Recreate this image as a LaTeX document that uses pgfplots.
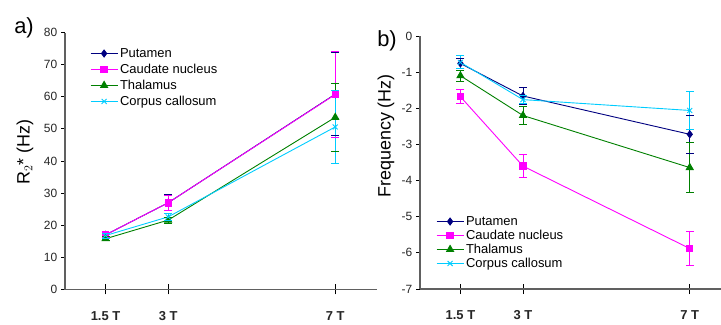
\documentclass[border=0pt]{standalone}
\usepackage{fontspec}
\setmainfont{Liberation Sans}
\usepackage{pgfplots}
\pgfplotsset{compat=1.18}
\usepackage{pgfplotstable}

\definecolor{cPut}{HTML}{000080}
\definecolor{cCau}{HTML}{FF00FF}
\definecolor{cTha}{HTML}{008000}
\definecolor{cCor}{HTML}{00CCFF}
\definecolor{axgray}{HTML}{606060}

% R2* data: field, mean
\pgfplotstableread{
x y
1.5 17.0
3   27.0
7   60.8
}\aPut
\pgfplotstableread{
x y
1.5 17.0
3   27.0
7   60.7
}\aCau
\pgfplotstableread{
x y
1.5 15.8
3   21.6
7   53.6
}\aTha
\pgfplotstableread{
x y
1.5 16.8
3   22.6
7   50.6
}\aCor
% Frequency data
\pgfplotstableread{
x y
1.5 -0.76
3   -1.66
7   -2.72
}\bPut
\pgfplotstableread{
x y
1.5 -1.68
3   -3.60
7   -5.88
}\bCau
\pgfplotstableread{
x y
1.5 -1.10
3   -2.20
7   -3.64
}\bTha
\pgfplotstableread{
x y
1.5 -0.73
3   -1.76
7   -2.06
}\bCor

\pgfplotsset{
  common/.style={
    scale only axis,
    /pgf/number format/assume math mode=true,
    axis x line*=bottom, axis y line*=left,
    axis line style={axgray, line width=1.3bp, -},
    xtick={1.5,3,7},
    xticklabels={\textbf{1.5 T},\textbf{3 T},\textbf{7 T}},
    tick align=outside,
    xtick style={black, line width=0.8bp, /pgfplots/major tick length=10bp, yshift=5bp},
    ytick style={black, line width=0.8bp, /pgfplots/major tick length=4bp},
    tick label style={font=\fontsize{12}{14}\selectfont, text=black!85},
    xticklabel style={font=\fontsize{13}{15}\selectfont, yshift=-14bp},
    legend style={draw=none, fill=none, font=\fontsize{13}{16}\selectfont, anchor=north west, legend cell align=left, inner sep=0pt, row sep=0.5pt},
    legend image code/.code={\draw[mark repeat=2,mark phase=2] plot coordinates {(0bp,0bp)(13.5bp,0bp)(27bp,0bp)};},
    ylabel style={font=\fontsize{18}{21}\selectfont, rotate=0},
    unbounded coords=jump,
  },
  eb/.style={draw=#1, forget plot, line width=0.9bp, solid, mark=-, mark size=4bp, mark options={draw=#1, solid, line width=0.9bp}},
  sPut/.style={color=cPut, line width=0.9bp, mark=diamond*, mark size=3.5bp, mark options={fill=cPut, solid}},
  sCau/.style={color=cCau, line width=0.9bp, mark=square*, mark size=3.2bp, mark options={fill=cCau, solid}},
  sTha/.style={color=cTha, line width=0.9bp, mark=triangle*, mark size=4bp, mark options={fill=cTha, solid}},
  sCor/.style={color=cCor, line width=0.9bp, mark=x, mark size=3.5bp, mark options={solid}},
}

\begin{document}
\begin{tikzpicture}
\useasboundingbox (0,0) rectangle (721bp,325bp);

\begin{axis}[common,
  at={(65bp,35.5bp)}, anchor=south west,
  width=312bp, height=257bp,
  xmin=0.53, xmax=8.0, ymin=0, ymax=80,
  ytick={0,10,...,80},
  ylabel={R$_2$* (Hz)},
  ylabel style={at={(axis description cs:-0.128,0.535)}, anchor=center},
  legend style={at={(axis description cs:0.08,0.947)}, row sep=1.2pt},
]
% error bars (low, high)
\addplot[eb=cPut] coordinates {(1.5,16.3) (1.5,17.7) (1.5,nan) (3,24.5) (3,29.5) (3,nan) (7,47.8) (7,73.8)};
\addplot[sPut] table[x=x,y=y] {\aPut};
\addlegendentry{Putamen}
\addplot[eb=cCau] coordinates {(1.5,16.2) (1.5,17.8) (1.5,nan) (3,24.7) (3,29.3) (3,nan) (7,47.2) (7,74.2)};
\addplot[sCau] table[x=x,y=y] {\aCau};
\addlegendentry{Caudate nucleus}
\addplot[eb=cTha] coordinates {(1.5,15.2) (1.5,16.4) (1.5,nan) (3,20.7) (3,22.5) (3,nan) (7,43.0) (7,64.2)};
\addplot[sTha] table[x=x,y=y] {\aTha};
\addlegendentry{Thalamus}
\addplot[eb=cCor] coordinates {(1.5,16.0) (1.5,17.6) (1.5,nan) (3,21.4) (3,23.8) (3,nan) (7,39.3) (7,61.9)};
\addplot[sCor] table[x=x,y=y] {\aCor};
\addlegendentry{Corpus callosum}
\end{axis}

\begin{axis}[common,
  at={(420bp,36bp)}, anchor=south west,
  width=301bp, height=253bp,
  xmin=0.53, xmax=7.75, ymin=-7, ymax=0,
  ytick={-7,-6,-5,-4,-3,-2,-1,0},
  yticklabels={-7,-6,-5,-4,-3,-2,-1,0},
  ylabel={Frequency (Hz)},
  ylabel style={at={(axis description cs:-0.113,0.605)}, anchor=center},
  legend style={at={(axis description cs:0.053,0.296)}, row sep=-0.8pt},
]
\addplot[eb=cPut] coordinates {(1.5,-0.90) (1.5,-0.62) (1.5,nan) (3,-1.90) (3,-1.42) (3,nan) (7,-3.24) (7,-2.20)};
\addplot[sPut] table[x=x,y=y] {\bPut};
\addlegendentry{Putamen}
\addplot[eb=cCau] coordinates {(1.5,-1.88) (1.5,-1.48) (1.5,nan) (3,-3.91) (3,-3.29) (3,nan) (7,-6.34) (7,-5.42)};
\addplot[sCau] table[x=x,y=y] {\bCau};
\addlegendentry{Caudate nucleus}
\addplot[eb=cTha] coordinates {(1.5,-1.25) (1.5,-0.95) (1.5,nan) (3,-2.45) (3,-1.95) (3,nan) (7,-4.34) (7,-2.94)};
\addplot[sTha] table[x=x,y=y] {\bTha};
\addlegendentry{Thalamus}
\addplot[eb=cCor] coordinates {(1.5,-0.91) (1.5,-0.55) (1.5,nan) (3,-1.88) (3,-1.64) (3,nan) (7,-2.59) (7,-1.53)};
\addplot[sCor] table[x=x,y=y] {\bCor};
\addlegendentry{Corpus callosum}
\end{axis}

\node[font=\fontsize{22}{24}\selectfont, inner sep=0pt] at (24bp,297bp) {a)};
\node[font=\fontsize{22}{24}\selectfont, inner sep=0pt] at (387bp,284bp) {b)};
\end{tikzpicture}
\end{document}
